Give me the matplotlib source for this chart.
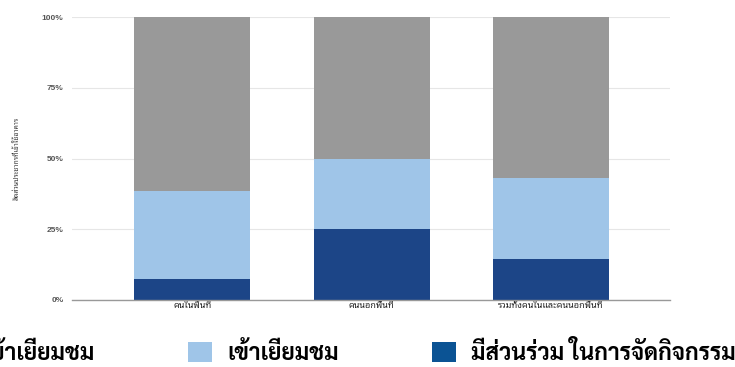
import matplotlib
matplotlib.use("Agg")
import matplotlib.pyplot as plt
from matplotlib.patches import Patch
from matplotlib.ticker import FuncFormatter
from matplotlib.font_manager import FontProperties, findfont
from matplotlib.textpath import TextPath

categories = ["คนในพื้นที่", "คนนอกพื้นที่", "รวมทั้งคนในและคนนอกพื้นที่"]
series_names = ["ไม่เข้าเยี่ยมชม", "เข้าเยี่ยมชม", "มีส่วนร่วม ในการจัดกิจกรรม"]
participate = [7.5, 25.0, 14.5]
visit = [31.0, 25.0, 28.5]
no_visit = [61.5, 50.0, 57.0]
y_ticks = [0, 25, 50, 75, 100]
y_label = "สัดส่วนประชากรที่เข้าใช้อาคาร"

c_grey = "#999999"
c_light = "#9fc5e8"
c_dark = "#1c4587"
c_dark_leg = "#0b5394"

small_font = ["Liberation Sans", "Noto Sans Thai Looped"]
thai_font = ["Noto Sans Thai Looped", "DejaVu Sans"]

# pick a looped Thai legend font whose proportions best fit the reference
candidates = ["Sarabun", "Noto Sans Thai Looped", "IBM Plex Sans Thai Looped", "Krub", "Niramit", "Taviraj"]
best = None
for fam in candidates:
    try:
        fp = FontProperties(family=fam, weight="bold", size=10)
        if fam.lower().replace(" ", "") not in findfont(fp).lower().replace("-", "").replace("_", ""):
            continue
        wbb = TextPath((0, 0), series_names[2], prop=fp).get_extents()
        size = 10 * (263 / (wbb.width * 100 / 72))
        fp2 = FontProperties(family=fam, weight="bold", size=size)
        hbb = TextPath((0, 0), "ม", prop=fp2).get_extents()
        h_px = hbb.height * 100 / 72
        if best is None or h_px > best[2]:
            best = (fam, size, h_px)
    except Exception:
        pass
if best is None:
    best = ("Noto Sans Thai Looped", 15, 0)
leg_fam, fs, _ = best
leg_font = [leg_fam, "Noto Sans Thai Looped", "DejaVu Sans"]

W, H = 735, 367
fig = plt.figure(figsize=(W/100, H/100), dpi=100)
ax = fig.add_axes([72/W, 1-300/H, (670-72)/W, (300-17)/H])

x = list(range(len(categories)))
w = 0.647
ax.bar(x, participate, width=w, color=c_dark, zorder=3)
ax.bar(x, visit, width=w, bottom=participate, color=c_light, zorder=3)
bottom2 = [a + b for a, b in zip(participate, visit)]
ax.bar(x, no_visit, width=w, bottom=bottom2, color=c_grey, zorder=3)

ax.set_xlim(-0.672, 2.664)
ax.set_ylim(0, 100)
ax.set_yticks(y_ticks)
ax.yaxis.set_major_formatter(FuncFormatter(lambda v, p: f"{int(v)}%"))
ax.grid(axis="y", color="#e6e6e6", linewidth=0.8, zorder=0)
for s in ["top", "right", "left"]:
    ax.spines[s].set_visible(False)
ax.spines["bottom"].set_color("#999999")
ax.spines["bottom"].set_linewidth(1.0)
ax.spines["bottom"].set_zorder(4)
ax.tick_params(axis="y", length=0, pad=6, labelsize=6, labelcolor="#555555")
ax.tick_params(axis="x", length=0, pad=1)
for lab in ax.get_yticklabels():
    lab.set_family(small_font)
    lab.set_fontweight("bold")
ax.set_xticks(x)
ax.set_xticklabels(categories, fontsize=6.5, family=thai_font, fontweight="bold", color="#222222")
ax.set_ylabel(y_label, fontsize=5, family=thai_font, color="#333333", labelpad=15.5)

handles = [Patch(facecolor=c_grey), Patch(facecolor=c_light), Patch(facecolor=c_dark_leg)]
fs_px = fs * 100 / 72
def make_legend(x0, cs):
    return fig.legend(handles, series_names, loc="center left", bbox_to_anchor=(x0, 1-353/H),
                      ncol=3, frameon=False,
                      prop={"family": leg_font, "weight": "bold", "size": fs},
                      handlelength=24/fs_px, handleheight=21/fs_px, handletextpad=15/fs_px,
                      columnspacing=cs, borderaxespad=0, borderpad=0)

x0, cs = -0.1, 3.0
leg = make_legend(x0, cs)
for _ in range(4):
    fig.canvas.draw()
    r = fig.canvas.get_renderer()
    hb = [p.get_window_extent(r) for p in leg.legend_handles]
    d = hb[2].x0 - hb[1].x0
    cs += (244 - d) / fs_px
    x0 += (188 - hb[1].x0) / W
    leg.remove()
    leg = make_legend(x0, cs)

fig.savefig("out.png")
